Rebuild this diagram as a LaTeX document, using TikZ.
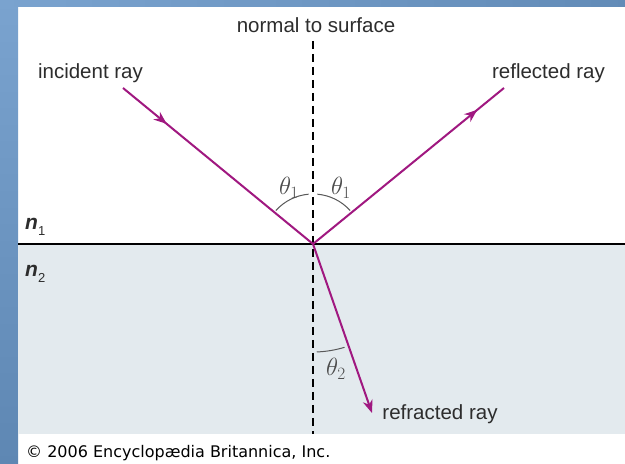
\documentclass[tikz,border=0pt]{standalone}
\usepackage{fontspec}
\setmainfont{Liberation Sans}
\newfontfamily\copyfont{DejaVu Sans}
\usetikzlibrary{arrows.meta,decorations.markings}
\definecolor{raycol}{RGB}{160,24,128}
\definecolor{lowfill}{RGB}{227,234,238}
\definecolor{bluetop}{RGB}{122,163,207}
\definecolor{bluebot}{RGB}{94,135,179}
\definecolor{txt}{RGB}{45,45,45}
\begin{document}
\begin{tikzpicture}[x=1pt,y=1pt,
  raystyle/.style={line width=2pt, draw=raycol},
  midarrow/.style={postaction={decorate},decoration={markings,mark=at position #1 with {\arrow[raycol]{Stealth[length=13pt,width=10pt]}}}},
  lbl/.style={font=\fontsize{20.5}{24}\selectfont, text=txt, inner sep=0pt, anchor=base},
  ang/.style={font=\fontsize{23}{26}\selectfont, text=txt!85, inner sep=0pt},
  arcstyle/.style={line width=1pt, draw=black!65},
  idx/.style={font=\fontsize{21}{24}\selectfont, text=txt, inner sep=0pt, anchor=base west}
]
\useasboundingbox (0,0) rectangle (625,464);
\fill[white] (0,0) rectangle (625,464);
\shade[top color=bluetop, bottom color=bluebot] (0,0) rectangle (18,464);
\shade[left color=bluetop, right color=bluebot!85!bluetop] (0,457) rectangle (625,464);
% lower medium
\fill[lowfill] (18,30) rectangle (625,220);
% coordinates
\coordinate (O) at (313,220);
\coordinate (inc) at (123,376);
\coordinate (refl) at (504,376);
\coordinate (refr) at (372,51);
\coordinate (ntop) at (313,423);
\coordinate (nbot) at (313,30);
\coordinate (sl) at (18,220);
\coordinate (sr) at (625,220);
% surface
\draw[line width=1.5pt, black] (sl) -- (sr);
% normal
\draw[line width=1.5pt, black, dash pattern=on 8pt off 5pt] (ntop) -- (nbot);
% rays
\draw[raystyle, midarrow=0.23] (inc) -- (O);
\draw[raystyle, midarrow=0.86] (O) -- (refl);
\draw[raystyle, -{Stealth[length=13pt,width=10pt]}] (O) -- (refr);
% angle arcs
\draw[arcstyle] (O) ++(95:50) arc[start angle=95, end angle=138, radius=50];
\draw[arcstyle] (O) ++(85:50) arc[start angle=85, end angle=42, radius=50];
\draw[arcstyle] (O) ++(-88:108) arc[start angle=-88, end angle=-73, radius=108];
% labels
\node[lbl] (lnormal) at (316,431) {normal to surface};
\node[lbl] (linc) at (90.5,385) {incident ray};
\node[lbl] (lrefl) at (548.5,385) {reflected ray};
\node[lbl] (lrefr) at (440,44) {refracted ray};
\node[ang] (t1l) at (289,276) {$\theta_1$};
\node[ang] (t1r) at (341,276) {$\theta_1$};
\node[ang] (t2) at (336,95) {$\theta_2$};
\node[idx] (n1) at (25,234) {{\bfseries\itshape n}\raisebox{-6pt}{\fontsize{13}{13}\selectfont 1}};
\node[idx] (n2) at (25,187) {{\bfseries\itshape n}\raisebox{-6pt}{\fontsize{13}{13}\selectfont 2}};
\node[font=\copyfont\fontsize{16}{18}\selectfont, text=black, inner sep=0pt, anchor=base west] (copy) at (26,6) {© 2006 Encyclopædia Britannica, Inc.};
\end{tikzpicture}
\end{document}
